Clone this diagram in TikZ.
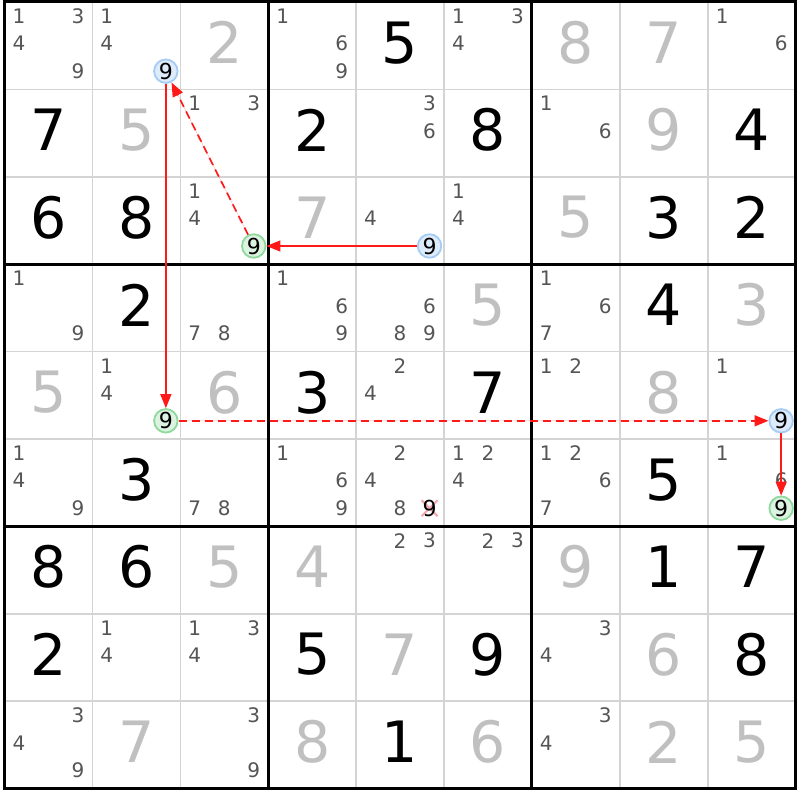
\documentclass[tikz,border=0pt]{standalone}
\usepackage{fontspec}
\setmainfont{DejaVu Sans}
\usetikzlibrary{arrows.meta}
\definecolor{thin}{HTML}{D4D4D4}
\definecolor{filled}{HTML}{C0C0C0}
\definecolor{candc}{HTML}{555555}
\definecolor{bluefill}{HTML}{DDEBFB}
\definecolor{bluedraw}{HTML}{A4CCF4}
\definecolor{greenfill}{HTML}{DDF3E1}
\definecolor{greendraw}{HTML}{8ED99C}
\definecolor{xpink}{HTML}{F4A6AE}
\definecolor{arrred}{HTML}{FF1A1A}
\newcommand{\CX}[1]{(4.5+87.9*(#1-0.5))}
\newcommand{\CY}[1]{(2+87.4*(#1-0.5))}
\newcommand{\Giv}[3]{\node[given] (d#1#2) at ({\CX{#2}},{\CY{#1}-3}) {#3};}
\newcommand{\Fil}[3]{\node[filledd] (d#1#2) at ({\CX{#2}},{\CY{#1}-3}) {#3};}
\newcommand{\Cand}[3]{\foreach \d in {#3}{%
  \pgfmathtruncatemacro\cc{mod(\d-1,3)}%
  \pgfmathtruncatemacro\rr{(\d-1)/3}%
  \node[cand] (c#1#2\d) at ({\CX{#2}+29.5*(\cc-1)},{\CY{#1}+27.5*(\rr-1)-2}) {\d};}}
\newcommand{\NineAt}[4]{\node[#3] (#4) at ({\CX{#2}+29.5},{\CY{#1}+27.5-2}) {9};}
\begin{document}
\begin{tikzpicture}[x=1pt,y=-1pt,
  given/.style={font=\fontsize{57}{57}\selectfont, text=black, inner sep=0pt},
  filledd/.style={font=\fontsize{57}{57}\selectfont, text=filled, inner sep=0pt},
  cand/.style={font=\fontsize{20}{20}\selectfont, text=candc, inner sep=0pt},
  bluenine/.style={circle, draw=bluedraw, fill=bluefill, line width=1.8pt, minimum size=23.5pt, inner sep=0pt, font=\fontsize{22}{22}\selectfont, text=black},
  greennine/.style={bluenine, draw=greendraw, fill=greenfill},
  arr/.style={draw=arrred, line width=1.4pt, -{Triangle[length=14pt,width=11pt]}, fill=arrred},
  dasharr/.style={arr, line width=1.7pt, dash pattern=on 8pt off 5pt},
  thinline/.style={draw=thin, line width=1.6pt},
  thickline/.style={draw=black, line width=3pt}]
\useasboundingbox (0,0) rectangle (800,800);
\fill[white] (0,0) rectangle (800,800);
% grid
\foreach \k in {1,2,4,5,7,8}{
  \draw[thinline] ({4.5+87.9*\k},2) -- ({4.5+87.9*\k},788.6);
  \draw[thinline] (4.5,{2+87.4*\k}) -- (795.6,{2+87.4*\k});
}
\foreach \k in {0,3,6,9}{
  \draw[thickline] ({4.5+87.9*\k},0.5) -- ({4.5+87.9*\k},790.1);
  \draw[thickline] (3,{2+87.4*\k}) -- (797.1,{2+87.4*\k});
}
% row 1
\Cand{1}{1}{1,3,4,9}
\Cand{1}{2}{1,4}
\Fil{1}{3}{2}
\Cand{1}{4}{1,6,9}
\Giv{1}{5}{5}
\Cand{1}{6}{1,3,4}
\Fil{1}{7}{8}
\Fil{1}{8}{7}
\Cand{1}{9}{1,6}
% row 2
\Giv{2}{1}{7}
\Fil{2}{2}{5}
\Cand{2}{3}{1,3}
\Giv{2}{4}{2}
\Cand{2}{5}{3,6}
\Giv{2}{6}{8}
\Cand{2}{7}{1,6}
\Fil{2}{8}{9}
\Giv{2}{9}{4}
% row 3
\Giv{3}{1}{6}
\Giv{3}{2}{8}
\Cand{3}{3}{1,4}
\Fil{3}{4}{7}
\Cand{3}{5}{4}
\Cand{3}{6}{1,4}
\Fil{3}{7}{5}
\Giv{3}{8}{3}
\Giv{3}{9}{2}
% row 4
\Cand{4}{1}{1,9}
\Giv{4}{2}{2}
\Cand{4}{3}{7,8}
\Cand{4}{4}{1,6,9}
\Cand{4}{5}{6,8,9}
\Fil{4}{6}{5}
\Cand{4}{7}{1,6,7}
\Giv{4}{8}{4}
\Fil{4}{9}{3}
% row 5
\Fil{5}{1}{5}
\Cand{5}{2}{1,4}
\Fil{5}{3}{6}
\Giv{5}{4}{3}
\Cand{5}{5}{2,4}
\Giv{5}{6}{7}
\Cand{5}{7}{1,2}
\Fil{5}{8}{8}
\Cand{5}{9}{1}
% row 6
\Cand{6}{1}{1,4,9}
\Giv{6}{2}{3}
\Cand{6}{3}{7,8}
\Cand{6}{4}{1,6,9}
\Cand{6}{5}{2,4,8}
\Cand{6}{6}{1,2,4}
\Cand{6}{7}{1,2,6,7}
\Giv{6}{8}{5}
\Cand{6}{9}{1,6}
% row 7
\Giv{7}{1}{8}
\Giv{7}{2}{6}
\Fil{7}{3}{5}
\Fil{7}{4}{4}
\Cand{7}{5}{2,3}
\Cand{7}{6}{2,3}
\Fil{7}{7}{9}
\Giv{7}{8}{1}
\Giv{7}{9}{7}
% row 8
\Giv{8}{1}{2}
\Cand{8}{2}{1,4}
\Cand{8}{3}{1,3,4}
\Giv{8}{4}{5}
\Fil{8}{5}{7}
\Giv{8}{6}{9}
\Cand{8}{7}{3,4}
\Fil{8}{8}{6}
\Giv{8}{9}{8}
% row 9
\Cand{9}{1}{3,4,9}
\Fil{9}{2}{7}
\Cand{9}{3}{3,9}
\Fil{9}{4}{8}
\Giv{9}{5}{1}
\Fil{9}{6}{6}
\Cand{9}{7}{3,4}
\Fil{9}{8}{2}
\Fil{9}{9}{5}
% eliminated 9 in r6c5
\coordinate (xc) at ({\CX{5}+29.5},{\CY{6}+27.5-2});
\draw[xpink, line width=2pt] ([shift={(-8,-8)}]xc) -- ([shift={(8,8)}]xc) ([shift={(-8,8)}]xc) -- ([shift={(8,-8)}]xc);
\node[cand, text=black, font=\fontsize{22}{22}\selectfont] (c659) at (xc) {9};
% chain nines
\NineAt{1}{2}{bluenine}{b1}
\NineAt{3}{3}{greennine}{g3}
\NineAt{3}{5}{bluenine}{b3}
\NineAt{5}{2}{greennine}{g5}
\NineAt{5}{9}{bluenine}{b5}
\NineAt{6}{9}{greennine}{g6}
% arrows
\draw[arr] (b3) -- (g3);
\draw[dasharr] (g3) -- (b1);
\draw[arr] (b1) -- (g5);
\draw[dasharr] (g5) -- (b5);
\draw[arr] (b5) -- (g6);
\end{tikzpicture}
\end{document}
